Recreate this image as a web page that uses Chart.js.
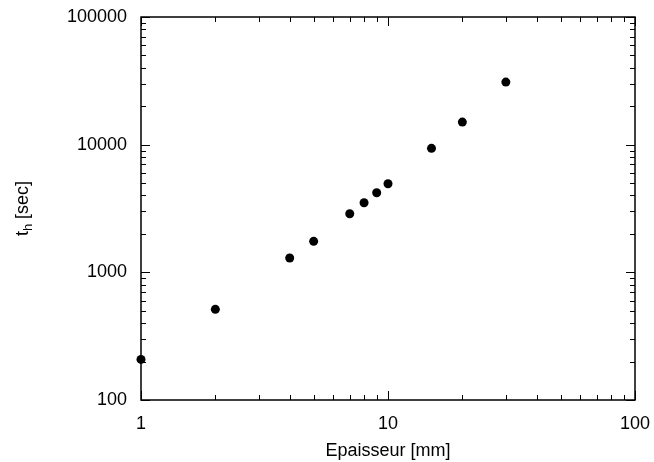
<!DOCTYPE html>
<html>
<head>
<meta charset="utf-8">
<script src="https://cdn.jsdelivr.net/npm/chart.js@4/dist/chart.umd.min.js"></script>
<style>
html,body{margin:0;padding:0;background:#fff;}
canvas{display:block;}
</style>
</head>
<body>
<canvas id="c" width="654" height="462"></canvas>
<script>
// Data
const thickness = [1, 2, 4, 5, 7, 8, 9, 10, 15, 20, 30];          // Epaisseur [mm]
const timeSec   = [208, 513, 1294, 1749, 2877, 3510, 4200, 4943, 9355, 15030, 30900]; // t_h [sec]
const xDecades = [1, 10, 100];
const yDecades = [100, 1000, 10000, 100000];

const FONT = "'Liberation Sans', Arial, sans-serif";
const isDecade = v => Math.abs(Math.log10(v) - Math.round(Math.log10(v))) < 1e-9;

function minorValues(decades) {
  const out = [];
  for (let i = 0; i < decades.length - 1; i++) {
    for (let k = 2; k <= 9; k++) out.push(decades[i] * k);
  }
  return out;
}

const framePlugin = {
  id: 'frame',
  beforeDatasetsDraw(chart) {
    const {ctx, chartArea: a, scales} = chart;
    ctx.save();
    ctx.strokeStyle = '#000';
    ctx.lineWidth = 1;
    const major = 9, minor = 5;
    const xs = scales.x;
    const drawX = (v, len) => {
      const px = Math.round(xs.getPixelForValue(v)) + 0.5;
      ctx.beginPath();
      ctx.moveTo(px, a.bottom); ctx.lineTo(px, a.bottom - len);
      ctx.moveTo(px, a.top); ctx.lineTo(px, a.top + len);
      ctx.stroke();
    };
    xDecades.forEach(v => drawX(v, major));
    minorValues(xDecades).forEach(v => drawX(v, minor));
    const ys = scales.y;
    const drawY = (v, len) => {
      const py = Math.round(ys.getPixelForValue(v)) + 0.5;
      ctx.beginPath();
      ctx.moveTo(a.left, py); ctx.lineTo(a.left + len, py);
      ctx.moveTo(a.right, py); ctx.lineTo(a.right - len, py);
      ctx.stroke();
    };
    yDecades.forEach(v => drawY(v, major));
    minorValues(yDecades).forEach(v => drawY(v, minor));
    ctx.lineWidth = 1.5;
    ctx.strokeRect(a.left, a.top, a.right - a.left, a.bottom - a.top);
    ctx.restore();
  },
  afterDraw(chart) {
    const {ctx, chartArea: a} = chart;
    ctx.save();
    ctx.fillStyle = '#000';
    const big = '18px ' + FONT, small = '13px ' + FONT;
    ctx.font = big; const wT = ctx.measureText('t').width;
    ctx.font = small; const wH = ctx.measureText('h').width;
    ctx.font = big; const wR = ctx.measureText(' [sec]').width;
    const total = wT + wH + wR;
    ctx.translate(28, (a.top + a.bottom) / 2);
    ctx.rotate(-Math.PI / 2);
    ctx.textBaseline = 'alphabetic';
    ctx.textAlign = 'left';
    let x = -total / 2;
    ctx.font = big; ctx.fillText('t', x, 0); x += wT;
    ctx.font = small; ctx.fillText('h', x, 4); x += wH;
    ctx.font = big; ctx.fillText(' [sec]', x, 0);
    ctx.restore();
  }
};

const points = thickness.map((x, i) => ({x: x, y: timeSec[i]}));

new Chart(document.getElementById('c'), {
  type: 'scatter',
  data: {
    datasets: [{
      data: points,
      backgroundColor: '#000',
      borderColor: '#000',
      pointRadius: 4.5,
      pointHoverRadius: 4.5,
      borderWidth: 0,
      clip: false
    }]
  },
  options: {
    responsive: false,
    animation: false,
    devicePixelRatio: 1,
    events: [],
    layout: {padding: {top: 17, right: 19, left: 0, bottom: 0}},
    plugins: {legend: {display: false}, tooltip: {enabled: false}},
    scales: {
      x: {
        type: 'logarithmic',
        position: 'bottom',
        min: 1, max: 100,
        grid: {display: false, drawTicks: false},
        border: {display: false},
        ticks: {
          autoSkip: false, maxRotation: 0, padding: 13, color: '#000',
          font: {size: 18, family: FONT},
          callback: v => isDecade(v) ? String(v) : ''
        },
        title: {display: true, text: 'Epaisseur [mm]', color: '#000',
                font: {size: 18, family: FONT}, padding: {top: 0, bottom: 0}},
        afterFit: s => { s.height = 62; s.paddingLeft = 0; s.paddingRight = 0; s.paddingTop = 0; s.paddingBottom = 0; }
      },
      y: {
        type: 'logarithmic',
        position: 'left',
        min: 100, max: 100000,
        grid: {display: false, drawTicks: false},
        border: {display: false},
        ticks: {
          autoSkip: false, padding: 14, color: '#000',
          font: {size: 18, family: FONT},
          callback: v => isDecade(v) ? String(v) : ''
        },
        afterFit: s => { s.width = 141; s.paddingLeft = 0; s.paddingRight = 0; s.paddingTop = 0; s.paddingBottom = 0; }
      }
    }
  },
  plugins: [framePlugin]
});
</script>
</body>
</html>
